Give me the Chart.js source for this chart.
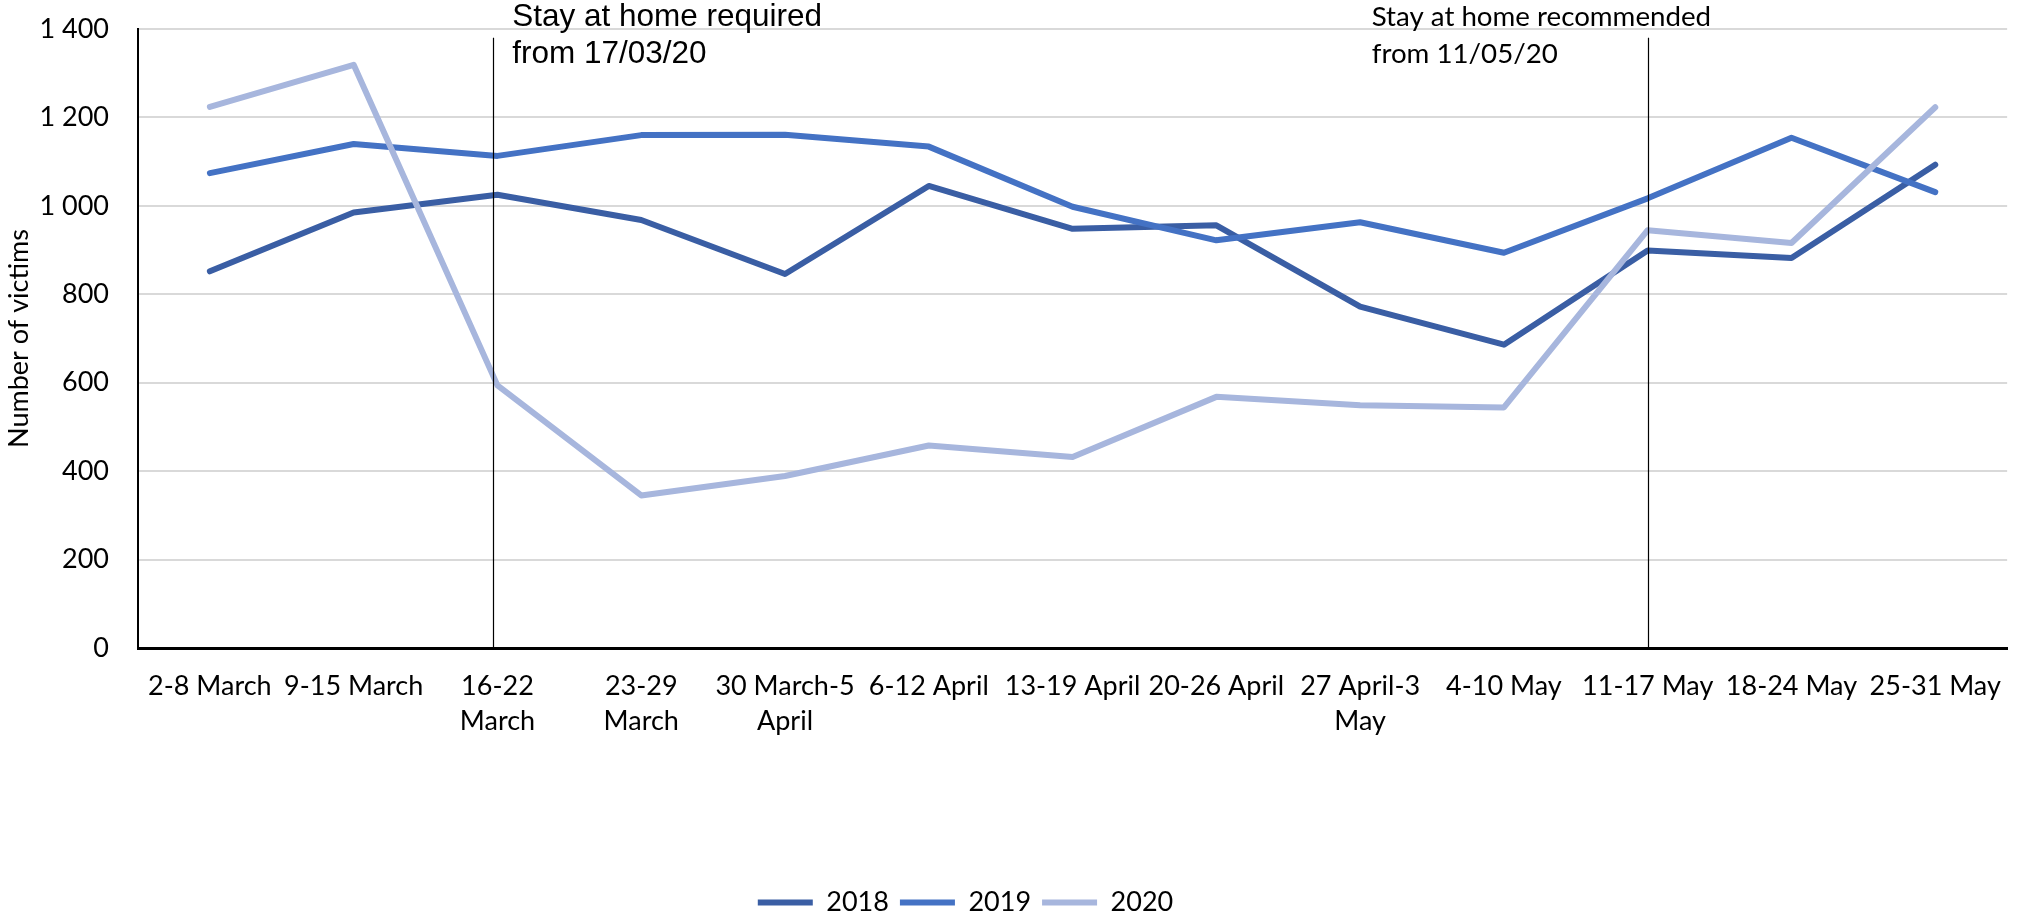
<!DOCTYPE html>
<html>
<head>
<meta charset="utf-8">
<script src="https://cdn.jsdelivr.net/npm/chart.js@4/dist/chart.umd.min.js"></script>
<style>
  html, body { margin: 0; padding: 0; background: #fff; }
  #wrap { width: 2022px; height: 915px; }
</style>
</head>
<body>
<div id="wrap"><canvas id="line-chart" width="2022" height="915"></canvas></div>
<script>
// DATA
const weeks = [
  "2-8 March", "9-15 March", ["16-22", "March"], ["23-29", "March"], ["30 March-5", "April"],
  "6-12 April", "13-19 April", "20-26 April", ["27 April-3", "May"], "4-10 May",
  "11-17 May", "18-24 May", "25-31 May"
];
const years = ["2018", "2019", "2020"];
const victims2018 = [852, 985, 1025, 968, 846, 1045, 948, 956, 772, 686, 899, 882, 1093];
const victims2019 = [1074, 1140, 1113, 1160, 1161, 1134, 998, 922, 963, 894, 1017, 1154, 1031];
const victims2020 = [1224, 1319, 594, 345, 389, 458, 432, 568, 549, 544, 945, 916, 1223];
const yTicks = [0, 200, 400, 600, 800, 1000, 1200, 1400];

// lockdown markers (category index) and their notes
const markerAt = [1.97, 10];
const markerNotes = [
  ["Stay at home required", "from 17/03/20"],
  ["Stay at home recommended", "from 11/05/20"]
];

const colors = ["#3a5ea4", "#4472c4", "#a7b6dd"];

Chart.defaults.font.family = "Lato";
Chart.defaults.color = "#000";

function fmtThousands(v){
  if (v < 1000) return String(v);
  return Math.floor(v / 1000) + " " + String(v % 1000).padStart(3, "0");
}

// VERTICAL LINES + NOTES
const markerPlugin = {
  id: "markers",
  afterLayout(chart){
    // legend sits a bit left of centre and low in the original
    const lg = chart.legend;
    lg.left -= 44; lg.right -= 44;
    lg.top += 11; lg.bottom += 11;
  },
  afterDatasetsDraw(chart){
    const ctx = chart.ctx;
    const x = chart.scales.x, y = chart.scales.y;
    const top = y.getPixelForValue(1380), bottom = y.getPixelForValue(0);
    ctx.save();
    ctx.strokeStyle = "#000";
    ctx.lineWidth = 1.2;
    markerAt.forEach(v => {
      const px = Math.round(x.getPixelForValue(v)) + 0.5;
      ctx.beginPath();
      ctx.moveTo(px, top);
      ctx.lineTo(px, bottom);
      ctx.stroke();
    });
    ctx.fillStyle = "#000";
    ctx.textBaseline = "alphabetic";
    ctx.textAlign = "left";
    const areaTop = chart.chartArea.top;
    // first note: right of the line, different font
    let px = x.getPixelForValue(markerAt[0]) + 19;
    ctx.font = "31.5px 'Liberation Sans'";
    ctx.fillText(markerNotes[0][0], px, areaTop - 3);
    ctx.fillText(markerNotes[0][1], px, areaTop + 34);
    // second note: left of the line
    px = x.getPixelForValue(markerAt[1]) - 276;
    ctx.font = "27.7px Lato";
    ctx.fillText(markerNotes[1][0], px, areaTop - 3);
    ctx.fillText(markerNotes[1][1], px, areaTop + 34);
    ctx.restore();
  }
};

const series = [victims2018, victims2019, victims2020];

const ctx = document.getElementById("line-chart").getContext("2d");
new Chart(ctx, {
  type: "line",
  data: {
    labels: weeks,
    datasets: years.map((yr, i) => ({
      label: yr,
      data: series[i],
      borderColor: colors[i],
      backgroundColor: colors[i],
      borderWidth: 6,
      borderCapStyle: "round",
      borderJoinStyle: "round",
      pointRadius: 0,
      tension: 0,
      fill: false,
      order: 3 - i // 2020 on top
    }))
  },
  options: {
    responsive: false,
    animation: false,
    layout: { padding: { top: 29, right: 3, left: 0, bottom: 0 } },
    plugins: {
      tooltip: { enabled: false },
      legend: {
        position: "bottom",
        labels: {
          usePointStyle: true,
          pointStyle: "line",
          pointStyleWidth: 55,
          padding: 11,
          font: { size: 27 },
          color: "#000",
          sort: (a, b) => a.datasetIndex - b.datasetIndex
        }
      }
    },
    scales: {
      x: {
        offset: true,
        grid: { display: true, drawOnChartArea: false, drawTicks: false },
        border: { color: "#000", width: 3 },
        ticks: {
          autoSkip: false, maxRotation: 0, minRotation: 0,
          padding: 21,
          font: { size: 27, lineHeight: 1.3 },
          color: "#000"
        },
        afterFit: s => { s.height = 219; }
      },
      y: {
        min: 0, max: 1400,
        afterBuildTicks: s => { s.ticks = yTicks.map(v => ({ value: v })); },
        grid: { color: "#d9d9d9", lineWidth: 2, drawTicks: false },
        border: { color: "#000", width: 2 },
        ticks: {
          padding: 29,
          font: { size: 27 },
          color: "#000",
          callback: v => fmtThousands(v)
        },
        title: {
          display: true,
          text: "Number of victims",
          font: { size: 27 },
          color: "#000",
          padding: { top: 3, bottom: 0 }
        },
        afterFit: s => { s.width = 138; s.paddingTop = 0; s.paddingBottom = 0; }
      }
    }
  },
  plugins: [markerPlugin]
});
</script>
</body>
</html>
